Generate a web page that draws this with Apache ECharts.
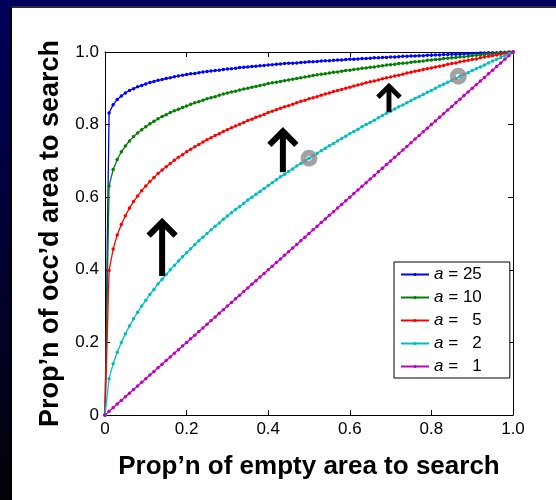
<!DOCTYPE html>
<html>
<head>
<meta charset="utf-8">
<script src="https://cdn.jsdelivr.net/npm/echarts@6/dist/echarts.min.js"></script>
<style>
  html, body { margin: 0; padding: 0; background: #fff; overflow: hidden; }
  #frame { position: relative; width: 556px; height: 500px; overflow: hidden; background: #00005a; }
  #edge { position: absolute; left: 0; top: 0; width: 10px; height: 500px; background: linear-gradient(#00005a, #020208); }
  #panel { position: absolute; left: 10px; top: 6px; width: 546px; height: 494px; box-sizing: border-box; background: #fff; border-left: 2px solid #000; border-top: 2px solid #2a2a3a; }
  #chart { position: absolute; left: 0; top: 0; width: 556px; height: 500px; }
</style>
</head>
<body>
<div id="frame">
  <div id="edge"></div>
  <div id="panel"></div>
  <div id="chart"></div>
</div>
<script>
// Proportion of empty area searched (x), sampled every 0.01
const propEmpty = [
  0,
  0.01, 0.02, 0.03, 0.04, 0.05, 0.06, 0.07, 0.08, 0.09, 0.10,
  0.11, 0.12, 0.13, 0.14, 0.15, 0.16, 0.17, 0.18, 0.19, 0.20,
  0.21, 0.22, 0.23, 0.24, 0.25, 0.26, 0.27, 0.28, 0.29, 0.30,
  0.31, 0.32, 0.33, 0.34, 0.35, 0.36, 0.37, 0.38, 0.39, 0.40,
  0.41, 0.42, 0.43, 0.44, 0.45, 0.46, 0.47, 0.48, 0.49, 0.50,
  0.51, 0.52, 0.53, 0.54, 0.55, 0.56, 0.57, 0.58, 0.59, 0.60,
  0.61, 0.62, 0.63, 0.64, 0.65, 0.66, 0.67, 0.68, 0.69, 0.70,
  0.71, 0.72, 0.73, 0.74, 0.75, 0.76, 0.77, 0.78, 0.79, 0.80,
  0.81, 0.82, 0.83, 0.84, 0.85, 0.86, 0.87, 0.88, 0.89, 0.90,
  0.91, 0.92, 0.93, 0.94, 0.95, 0.96, 0.97, 0.98, 0.99, 1.00
];

// Proportion of occupied area searched (y), one list per value of a
const occA25 = [
  0,
  0.832, 0.855, 0.869, 0.879, 0.887, 0.894, 0.899, 0.904, 0.908, 0.912,
  0.916, 0.919, 0.922, 0.924, 0.927, 0.929, 0.932, 0.934, 0.936, 0.938,
  0.940, 0.941, 0.943, 0.945, 0.946, 0.948, 0.949, 0.950, 0.952, 0.953,
  0.954, 0.955, 0.957, 0.958, 0.959, 0.960, 0.961, 0.962, 0.963, 0.964,
  0.965, 0.966, 0.967, 0.968, 0.969, 0.969, 0.970, 0.971, 0.972, 0.973,
  0.973, 0.974, 0.975, 0.976, 0.976, 0.977, 0.978, 0.978, 0.979, 0.980,
  0.980, 0.981, 0.982, 0.982, 0.983, 0.984, 0.984, 0.985, 0.985, 0.986,
  0.986, 0.987, 0.988, 0.988, 0.989, 0.989, 0.990, 0.990, 0.991, 0.991,
  0.992, 0.992, 0.993, 0.993, 0.994, 0.994, 0.994, 0.995, 0.995, 0.996,
  0.996, 0.997, 0.997, 0.998, 0.998, 0.998, 0.999, 0.999, 1.000, 1.000
];
const occA10 = [
  0,
  0.631, 0.676, 0.704, 0.725, 0.741, 0.755, 0.767, 0.777, 0.786, 0.794,
  0.802, 0.809, 0.816, 0.822, 0.827, 0.833, 0.838, 0.842, 0.847, 0.851,
  0.856, 0.860, 0.863, 0.867, 0.871, 0.874, 0.877, 0.881, 0.884, 0.887,
  0.890, 0.892, 0.895, 0.898, 0.900, 0.903, 0.905, 0.908, 0.910, 0.913,
  0.915, 0.917, 0.919, 0.921, 0.923, 0.925, 0.927, 0.929, 0.931, 0.933,
  0.935, 0.937, 0.939, 0.940, 0.942, 0.944, 0.945, 0.947, 0.949, 0.950,
  0.952, 0.953, 0.955, 0.956, 0.958, 0.959, 0.961, 0.962, 0.964, 0.965,
  0.966, 0.968, 0.969, 0.970, 0.972, 0.973, 0.974, 0.975, 0.977, 0.978,
  0.979, 0.980, 0.982, 0.983, 0.984, 0.985, 0.986, 0.987, 0.988, 0.990,
  0.991, 0.992, 0.993, 0.994, 0.995, 0.996, 0.997, 0.998, 0.999, 1.000
];
const occA5 = [
  0,
  0.398, 0.457, 0.496, 0.525, 0.549, 0.570, 0.588, 0.603, 0.618, 0.631,
  0.643, 0.654, 0.665, 0.675, 0.684, 0.693, 0.702, 0.710, 0.717, 0.725,
  0.732, 0.739, 0.745, 0.752, 0.758, 0.764, 0.770, 0.775, 0.781, 0.786,
  0.791, 0.796, 0.801, 0.806, 0.811, 0.815, 0.820, 0.824, 0.828, 0.833,
  0.837, 0.841, 0.845, 0.849, 0.852, 0.856, 0.860, 0.864, 0.867, 0.871,
  0.874, 0.877, 0.881, 0.884, 0.887, 0.891, 0.894, 0.897, 0.900, 0.903,
  0.906, 0.909, 0.912, 0.915, 0.918, 0.920, 0.923, 0.926, 0.929, 0.931,
  0.934, 0.936, 0.939, 0.942, 0.944, 0.947, 0.949, 0.952, 0.954, 0.956,
  0.959, 0.961, 0.963, 0.966, 0.968, 0.970, 0.973, 0.975, 0.977, 0.979,
  0.981, 0.984, 0.986, 0.988, 0.990, 0.992, 0.994, 0.996, 0.998, 1.000
];
const occA2 = [
  0,
  0.100, 0.141, 0.173, 0.200, 0.224, 0.245, 0.265, 0.283, 0.300, 0.316,
  0.332, 0.346, 0.361, 0.374, 0.387, 0.400, 0.412, 0.424, 0.436, 0.447,
  0.458, 0.469, 0.480, 0.490, 0.500, 0.510, 0.520, 0.529, 0.539, 0.548,
  0.557, 0.566, 0.574, 0.583, 0.592, 0.600, 0.608, 0.616, 0.624, 0.632,
  0.640, 0.648, 0.656, 0.663, 0.671, 0.678, 0.686, 0.693, 0.700, 0.707,
  0.714, 0.721, 0.728, 0.735, 0.742, 0.748, 0.755, 0.762, 0.768, 0.775,
  0.781, 0.787, 0.794, 0.800, 0.806, 0.812, 0.819, 0.825, 0.831, 0.837,
  0.843, 0.849, 0.854, 0.860, 0.866, 0.872, 0.877, 0.883, 0.889, 0.894,
  0.900, 0.906, 0.911, 0.917, 0.922, 0.927, 0.933, 0.938, 0.943, 0.949,
  0.954, 0.959, 0.964, 0.970, 0.975, 0.980, 0.985, 0.990, 0.995, 1.000
];
const occA1 = [
  0,
  0.01, 0.02, 0.03, 0.04, 0.05, 0.06, 0.07, 0.08, 0.09, 0.10,
  0.11, 0.12, 0.13, 0.14, 0.15, 0.16, 0.17, 0.18, 0.19, 0.20,
  0.21, 0.22, 0.23, 0.24, 0.25, 0.26, 0.27, 0.28, 0.29, 0.30,
  0.31, 0.32, 0.33, 0.34, 0.35, 0.36, 0.37, 0.38, 0.39, 0.40,
  0.41, 0.42, 0.43, 0.44, 0.45, 0.46, 0.47, 0.48, 0.49, 0.50,
  0.51, 0.52, 0.53, 0.54, 0.55, 0.56, 0.57, 0.58, 0.59, 0.60,
  0.61, 0.62, 0.63, 0.64, 0.65, 0.66, 0.67, 0.68, 0.69, 0.70,
  0.71, 0.72, 0.73, 0.74, 0.75, 0.76, 0.77, 0.78, 0.79, 0.80,
  0.81, 0.82, 0.83, 0.84, 0.85, 0.86, 0.87, 0.88, 0.89, 0.90,
  0.91, 0.92, 0.93, 0.94, 0.95, 0.96, 0.97, 0.98, 0.99, 1.00
];

const aValues = [25, 10, 5, 2, 1];
const curves = [occA25, occA10, occA5, occA2, occA1];
const curveColors = ['#0000ff', '#008000', '#ff0000', '#00bfbf', '#bf00bf'];

// Up arrows: [x, y of tail, y of tip]
const arrows = [
  [0.14, 0.383, 0.543],
  [0.436, 0.669, 0.793],
  [0.696, 0.835, 0.915]
];
// Grey ring markers sitting on the a = 2 curve
const rings = [
  [0.5, 0.707],
  [0.866, 0.933]
];

const FONT = '"Liberation Sans", Arial, Helvetica, sans-serif';
const tickFmt = v => (v === 0 ? '0' : v.toFixed(1));
const seriesName = a => 'a = ' + a;

const chart = echarts.init(document.getElementById('chart'), null, { renderer: 'canvas' });

function frameAxis(position, withLabels, extra) {
  return Object.assign({
    type: 'value',
    min: 0,
    max: 1,
    interval: 0.2,
    position: position,
    axisLine: { show: true, onZero: false, lineStyle: { color: '#000', width: 1 } },
    axisTick: { show: true, inside: true, length: 5, lineStyle: { color: '#000', width: 1 } },
    axisLabel: {
      show: withLabels,
      formatter: tickFmt,
      color: '#000',
      fontFamily: FONT,
      fontSize: 17,
      margin: 6
    },
    splitLine: { show: false }
  }, extra || {});
}

const lineSeries = aValues.map((a, i) => ({
  type: 'line',
  name: seriesName(a),
  data: propEmpty.map((x, k) => [x, curves[i][k]]),
  symbol: 'circle',
  symbolSize: 3.5,
  showSymbol: true,
  color: curveColors[i],
  lineStyle: { color: curveColors[i], width: 1.3 },
  itemStyle: { color: curveColors[i] },
  silent: true,
  z: 2
}));

const arrowSeries = {
  type: 'custom',
  coordinateSystem: 'cartesian2d',
  data: arrows,
  encode: { x: 0, y: [1, 2] },
  silent: true,
  z: 5,
  renderItem: function (params, api) {
    const tail = api.coord([api.value(0), api.value(1)]);
    const tip = api.coord([api.value(0), api.value(2)]);
    const len = tail[1] - tip[1];
    const w = Math.min(6, len * 0.17);
    const half = Math.min(13.5, len * 0.38);
    const apex = tip[1] + w * 0.7;
    return {
      type: 'group',
      children: [
        {
          type: 'line',
          shape: { x1: tail[0], y1: tail[1], x2: tip[0], y2: apex },
          style: { stroke: '#000', lineWidth: w, lineCap: 'butt' }
        },
        {
          type: 'polyline',
          shape: { points: [[tip[0] - half, apex + half], [tip[0], apex], [tip[0] + half, apex + half]] },
          style: { stroke: '#000', fill: null, lineWidth: w, lineJoin: 'miter', lineCap: 'butt', miterLimit: 10 }
        }
      ]
    };
  }
};

const ringSeries = {
  type: 'scatter',
  data: rings,
  symbol: 'circle',
  symbolSize: 11,
  itemStyle: { color: 'rgba(0,0,0,0)', borderColor: '#8c8c8c', borderWidth: 6 },
  silent: true,
  z: 6
};

chart.setOption({
  animation: false,
  backgroundColor: 'transparent',
  grid: { left: 105, right: 43, top: 52, bottom: 85, containLabel: false },
  xAxis: [
    frameAxis('bottom', true, {
      name: 'Prop\u2019n of empty area to search',
      nameLocation: 'middle',
      nameGap: 39,
      nameTextStyle: { color: '#000', fontFamily: FONT, fontSize: 26, fontWeight: 'bold' }
    }),
    frameAxis('top', false)
  ],
  yAxis: [
    frameAxis('left', true, {
      name: 'Prop\u2019n of occ\u2019d area to search',
      nameLocation: 'middle',
      nameGap: 40,
      nameTextStyle: { color: '#000', fontFamily: FONT, fontSize: 27, fontWeight: 'bold' }
    }),
    frameAxis('right', false)
  ],
  legend: {
    data: aValues.map(seriesName),
    orient: 'vertical',
    left: 394,
    top: 262,
    backgroundColor: '#fff',
    borderColor: '#000',
    borderWidth: 1,
    borderRadius: 0,
    padding: [4, 28, 3, 6],
    itemGap: 6,
    itemWidth: 28,
    itemHeight: 4,
    selectedMode: false,
    formatter: name => '{i|a} = {n|' + name.split('= ')[1] + '}',
    textStyle: {
      color: '#000',
      fontFamily: FONT,
      fontSize: 17,
      lineHeight: 16,
      rich: {
        i: { fontStyle: 'italic', fontFamily: FONT, fontSize: 17, lineHeight: 16, color: '#000' },
        n: { width: 19, align: 'right', fontFamily: FONT, fontSize: 17, lineHeight: 16, color: '#000' }
      }
    }
  },
  series: lineSeries.concat([arrowSeries, ringSeries])
});
</script>
</body>
</html>
